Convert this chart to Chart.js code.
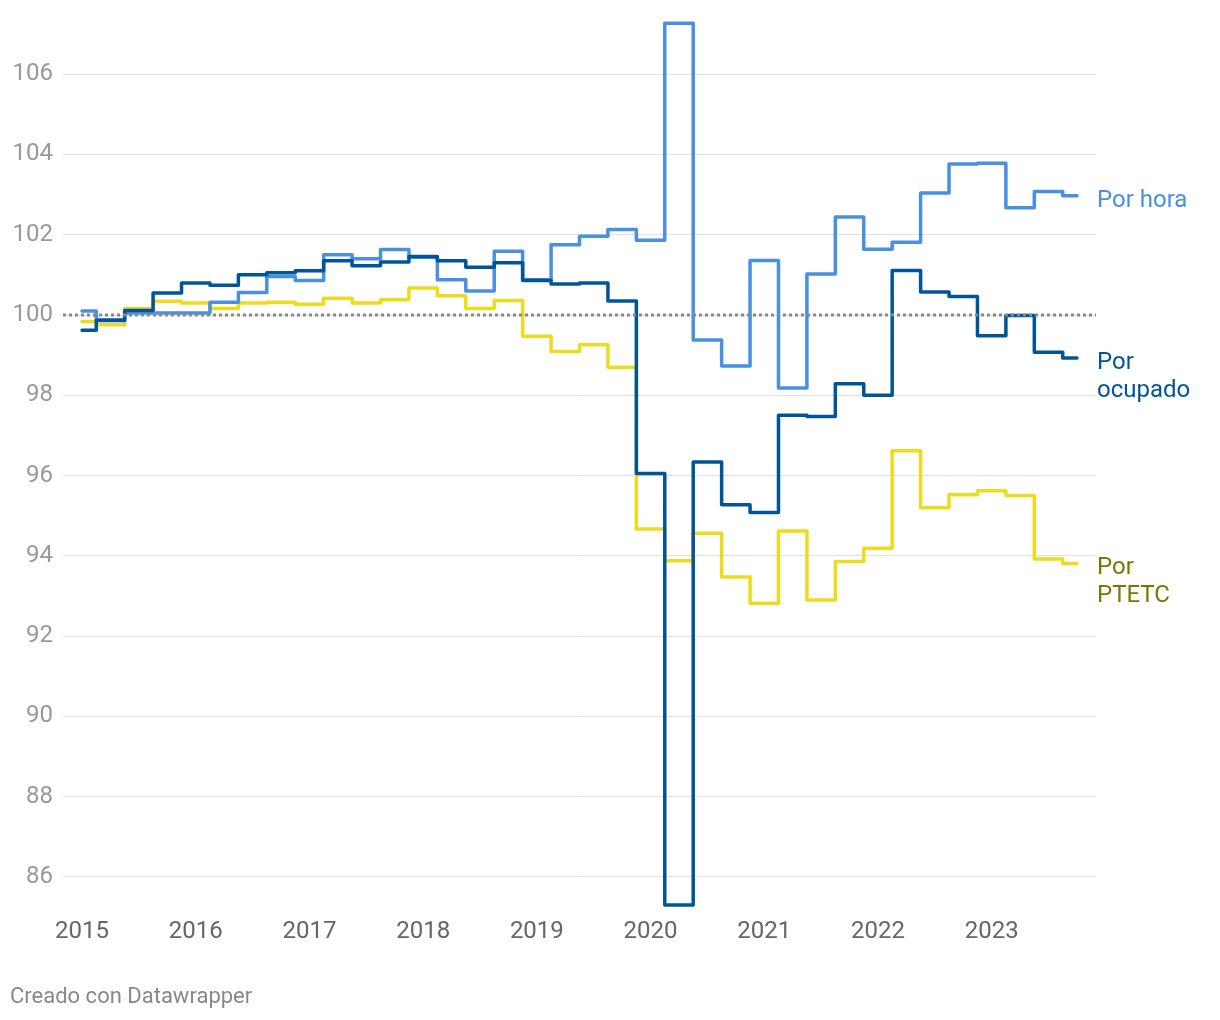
<!DOCTYPE html>
<html>
<head>
<meta charset="utf-8">
<script src="https://cdn.jsdelivr.net/npm/chart.js@4.4.0/dist/chart.umd.min.js"></script>
<style>
html,body{margin:0;padding:0;background:#fff;}
#wrap{position:relative;width:1220px;height:1020px;}
#c{position:absolute;left:0;top:0;}
#foot{position:absolute;left:10px;top:983px;font-family:Roboto,sans-serif;font-size:22px;color:#888;}
</style>
</head>
<body>
<div id="wrap">
<canvas id="c" width="1220" height="1020"></canvas>
<div id="foot">Creado con Datawrapper</div>
</div>
<script>
const years = ['2015','2016','2017','2018','2019','2020','2021','2022','2023'];
const quarters = 36;
const porHora = [100.1, 99.88, 100.05, 100.05, 100.05, 100.32, 100.56, 100.96, 100.86, 101.5, 101.4, 101.63, 101.44, 100.88, 100.6, 101.59, 100.88, 101.75, 101.96, 102.13, 101.86, 107.27, 99.38, 98.73, 101.36, 98.18, 101.02, 102.44, 101.64, 101.81, 103.04, 103.76, 103.78, 102.67, 103.08, 102.97];
const porOcupado = [99.62, 99.86, 100.11, 100.55, 100.8, 100.74, 101.0, 101.05, 101.1, 101.35, 101.23, 101.32, 101.46, 101.35, 101.19, 101.3, 100.86, 100.77, 100.8, 100.35, 96.05, 85.3, 96.34, 95.27, 95.08, 97.5, 97.47, 98.29, 98.0, 101.11, 100.57, 100.46, 99.48, 99.99, 99.07, 98.93];
const porPTETC = [99.84, 99.76, 100.16, 100.34, 100.3, 100.16, 100.3, 100.32, 100.27, 100.42, 100.3, 100.38, 100.67, 100.48, 100.16, 100.36, 99.47, 99.09, 99.26, 98.7, 94.67, 93.88, 94.56, 93.47, 92.82, 94.62, 92.9, 93.86, 94.19, 96.62, 95.2, 95.52, 95.62, 95.5, 93.92, 93.81];
const yTicks = [86, 88, 90, 92, 94, 96, 98, 100, 102, 104, 106];
const baseline = 100;

const seriesNames = [['Por hora'], ['Por', 'ocupado'], ['Por', 'PTETC']];
const lineColors = ['#4a90e0', '#00559a', '#eedc1c'];
const labelColors = ['#4a90e0', '#00559a', '#7d7600'];

const toPts = arr => arr.map((v, i) => ({x: i, y: v}));

const refLine = {
  id: 'refLine',
  afterDatasetsDraw(chart) {
    const {ctx, chartArea, scales} = chart;
    const y = scales.y.getPixelForValue(baseline);
    ctx.save();
    ctx.strokeStyle = '#888';
    ctx.lineWidth = 3;
    ctx.setLineDash([3, 3]);
    ctx.beginPath();
    ctx.moveTo(chartArea.left, y);
    ctx.lineTo(chartArea.right, y);
    ctx.stroke();
    ctx.restore();
  }
};

const endLabels = {
  id: 'endLabels',
  afterDraw(chart) {
    const {ctx, chartArea} = chart;
    ctx.save();
    ctx.font = '24px Roboto';
    ctx.textBaseline = 'middle';
    ctx.textAlign = 'left';
    chart.data.datasets.forEach((ds, i) => {
      const meta = chart.getDatasetMeta(i);
      const last = meta.data[meta.data.length - 1];
      ctx.fillStyle = labelColors[i];
      seriesNames[i].forEach((t, j) => {
        ctx.fillText(t, chartArea.right + 1, last.y + 5 + j * 28);
      });
    });
    ctx.restore();
  }
};

new Chart(document.getElementById('c'), {
  type: 'line',
  data: {
    datasets: [
      {label: 'Por hora', data: toPts(porHora), borderColor: lineColors[0], order: 2},
      {label: 'Por ocupado', data: toPts(porOcupado), borderColor: lineColors[1], order: 1},
      {label: 'Por PTETC', data: toPts(porPTETC), borderColor: lineColors[2], order: 3}
    ].map(d => Object.assign(d, {
      stepped: 'middle', borderWidth: 3.5, pointRadius: 0, fill: false,
      borderJoinStyle: 'round', borderCapStyle: 'round', tension: 0
    }))
  },
  options: {
    responsive: false,
    animation: false,
    devicePixelRatio: 1,
    layout: {padding: {left: 0, right: 124, top: 18, bottom: 58}},
    plugins: {legend: {display: false}, tooltip: {enabled: false}},
    scales: {
      x: {
        type: 'linear',
        min: -0.67,
        max: quarters - 1 + 0.67,
        afterBuildTicks: s => { s.ticks = years.map((y, i) => ({value: i * 4})); },
        afterFit: s => { s.height = 53; s.paddingLeft = 0; s.paddingRight = 0; },
        ticks: {
          callback: (v) => years[v / 4],
          color: '#666',
          font: {family: 'Roboto', size: 24},
          padding: 1,
          maxRotation: 0,
          autoSkip: false
        },
        grid: {display: false},
        border: {display: false}
      },
      y: {
        min: 85.2,
        max: 107.4,
        afterBuildTicks: s => { s.ticks = yTicks.map(v => ({value: v})); },
        afterFit: s => { s.width = 63; s.paddingTop = 0; s.paddingBottom = 0; },
        ticks: {
          color: '#999',
          font: {family: 'Roboto', size: 24},
          padding: 10
        },
        grid: {color: '#e1e1e1', lineWidth: 1, drawTicks: false},
        border: {display: false}
      }
    }
  },
  plugins: [refLine, endLabels]
});
</script>
</body>
</html>
